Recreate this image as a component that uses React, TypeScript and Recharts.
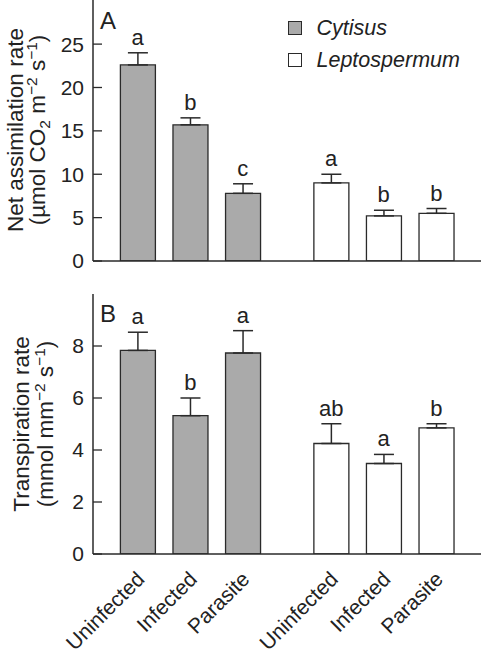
import React from 'react';
import { ComposedChart, Bar, ErrorBar, XAxis, YAxis, Scatter, Legend } from 'recharts';

// ---------- data ----------
const treatments = ['Uninfected', 'Infected', 'Parasite'];
const species = ['Cytisus', 'Leptospermum'];

const cytisusNetAssim = [22.6, 15.7, 7.8];
const cytisusNetAssimErr = [1.4, 0.8, 1.1];
const cytisusNetAssimLetters = ['a', 'b', 'c'];
const leptoNetAssim = [9.0, 5.2, 5.5];
const leptoNetAssimErr = [1.0, 0.65, 0.55];
const leptoNetAssimLetters = ['a', 'b', 'b'];

const cytisusTransp = [7.83, 5.32, 7.73];
const cytisusTranspErr = [0.7, 0.68, 0.86];
const cytisusTranspLetters = ['a', 'b', 'a'];
const leptoTransp = [4.25, 3.48, 4.85];
const leptoTranspErr = [0.76, 0.35, 0.16];
const leptoTranspLetters = ['ab', 'a', 'b'];

const netAssimTicks = [0, 5, 10, 15, 20, 25];
const transpTicks = [0, 2, 4, 6, 8];

// ---------- layout constants ----------
const GROUP_GAP = 0.68;
const X_DOMAIN: [number, number] = [-0.85, 6.53];
const FONT = '"Liberation Sans", Arial, Helvetica, sans-serif';
const INK = '#222';
const GRAY = '#aaaaaa';
const STROKE = '#2a2a2a';

type Row = {
  pos: number;
  treatment: string;
  cyt?: number;
  lep?: number;
  cytErr?: [number, number];
  lepErr?: [number, number];
  top: number;
  letter: string;
};

function buildRows(
  cV: number[], cE: number[], cL: string[],
  lV: number[], lE: number[], lL: string[]
): Row[] {
  const rows: Row[] = [];
  treatments.forEach((t, i) =>
    rows.push({ pos: i, treatment: t, cyt: cV[i], cytErr: [0, cE[i]], top: cV[i] + cE[i], letter: cL[i] })
  );
  treatments.forEach((t, i) =>
    rows.push({
      pos: treatments.length + GROUP_GAP + i,
      treatment: t,
      lep: lV[i],
      lepErr: [0, lE[i]],
      top: lV[i] + lE[i],
      letter: lL[i],
    })
  );
  return rows;
}

const rowsA = buildRows(
  cytisusNetAssim, cytisusNetAssimErr, cytisusNetAssimLetters,
  leptoNetAssim, leptoNetAssimErr, leptoNetAssimLetters
);
const rowsB = buildRows(
  cytisusTransp, cytisusTranspErr, cytisusTranspLetters,
  leptoTransp, leptoTranspErr, leptoTranspLetters
);

const LetterShape = (props: any) => {
  const { cx, cy, payload } = props;
  return (
    <text x={cx} y={cy - 8} textAnchor="middle" fontSize={22} fontFamily={FONT} fill={INK}>
      {payload.letter}
    </text>
  );
};

const RotatedTick = (props: any) => {
  const { x, y, payload } = props;
  const row = rowsB.find((r) => Math.abs(r.pos - payload.value) < 1e-6);
  return (
    <text
      transform={`translate(${x + 8},${y + 24.5}) rotate(-45)`}
      textAnchor="end"
      fontSize={21}
      fontFamily={FONT}
      fill={INK}
    >
      {row ? row.treatment : ''}
    </text>
  );
};

const LegendContent = () => (
  <div style={{ fontFamily: FONT, fontStyle: 'italic', fontSize: 21.5, color: INK }}>
    {species.map((s, i) => (
      <div key={s} style={{ display: 'flex', alignItems: 'center', height: 32 }}>
        <span
          style={{
            display: 'inline-block',
            width: 14,
            height: 14,
            boxSizing: 'border-box',
            border: `1.5px solid ${STROKE}`,
            background: i === 0 ? GRAY : '#fff',
            marginRight: 14.5,
          }}
        />
        <span>{s}</span>
      </div>
    ))}
  </div>
);

const yTick = { fontSize: 21, fill: INK, fontFamily: FONT };

function Panel(props: {
  rows: Row[];
  height: number;
  top: number;
  xAxisHeight: number;
  yDomain: [number, number];
  yTicks: number[];
  showXLabels: boolean;
  showLegend: boolean;
}) {
  const { rows, height, top, xAxisHeight, yDomain, yTicks, showXLabels, showLegend } = props;
  const positions = rows.map((r) => r.pos);
  return (
    <ComposedChart width={482} height={height} data={rows} margin={{ top, right: 1, bottom: 0, left: 0 }}>
      <XAxis
        dataKey="pos"
        type="number"
        domain={X_DOMAIN}
        ticks={positions}
        interval={0}
        height={xAxisHeight}
        tickSize={0}
        tickLine={false}
        tick={showXLabels ? <RotatedTick /> : false}
        axisLine={{ stroke: STROKE, strokeWidth: 1.5 }}
      />
      <XAxis xAxisId="top" orientation="top" height={0} tick={false} tickLine={false} axisLine={{ stroke: STROKE, strokeWidth: 1.5 }} />
      <YAxis
        type="number"
        domain={yDomain}
        ticks={yTicks}
        interval={0}
        width={93}
        tickSize={-9}
        tickMargin={18}
        tick={yTick}
        tickLine={{ stroke: STROKE, strokeWidth: 1.3 }}
        axisLine={{ stroke: STROKE, strokeWidth: 1.5 }}
        allowDataOverflow
      />
      <YAxis yAxisId="right" orientation="right" width={0} tick={false} tickLine={false} axisLine={{ stroke: STROKE, strokeWidth: 1.5 }} />
      {showLegend && (
        <Legend
          layout="horizontal"
          verticalAlign="middle"
          align="center"
          content={<LegendContent />}
          wrapperStyle={{ left: 288, top: 13, width: 190 }}
        />
      )}
      <Bar dataKey="cyt" name={species[0]} stackId="s" barSize={35} fill={GRAY} stroke={STROKE} strokeWidth={1.3} isAnimationActive={false}>
        <ErrorBar dataKey="cytErr" width={10} stroke={STROKE} strokeWidth={1.5} direction="y" />
      </Bar>
      <Bar dataKey="lep" name={species[1]} stackId="s" barSize={35} fill="#ffffff" stroke={STROKE} strokeWidth={1.3} isAnimationActive={false}>
        <ErrorBar dataKey="lepErr" width={10} stroke={STROKE} strokeWidth={1.5} direction="y" />
      </Bar>
      <Scatter dataKey="top" legendType="none" shape={<LetterShape />} isAnimationActive={false} />
    </ComposedChart>
  );
}

export default function App() {
  return (
    <div style={{ position: 'absolute', left: 0, top: 0, width: 482, height: 650, background: '#fff', overflow: 'hidden' }}>
      <div style={{ position: 'absolute', left: 0, top: -1 }}>
        <Panel rows={rowsA} height={274} top={0} xAxisHeight={12} yDomain={[0, 30.2]} yTicks={netAssimTicks} showXLabels={false} showLegend />
      </div>
      <div style={{ position: 'absolute', left: 0, top: 293 }}>
        <Panel rows={rowsB} height={357} top={1} xAxisHeight={96} yDomain={[0, 10]} yTicks={transpTicks} showXLabels showLegend={false} />
      </div>
      <svg width={482} height={650} style={{ position: 'absolute', left: 0, top: 0, pointerEvents: 'none' }}>
        <g fontFamily={FONT} fill={INK}>
          <text x={100} y={28.5} fontSize={24}>A</text>
          <text x={100} y={321.5} fontSize={24}>B</text>
          <text transform="translate(23,130) rotate(-90)" textAnchor="middle" fontSize={22.5}>Net assimilation rate</text>
          <text transform="translate(44.5,130) rotate(-90)" textAnchor="middle" fontSize={22.5}>
            (µmol CO<tspan dy={5} fontSize={15.5}>2</tspan>
            <tspan dy={-5}> m</tspan>
            <tspan dy={-8} fontSize={15.5}>−2</tspan>
            <tspan dy={8}> s</tspan>
            <tspan dy={-8} fontSize={15.5}>−1</tspan>
            <tspan dy={8}>)</tspan>
          </text>
          <text transform="translate(29,424) rotate(-90)" textAnchor="middle" fontSize={22.5}>Transpiration rate</text>
          <text transform="translate(52.5,424) rotate(-90)" textAnchor="middle" fontSize={22.5}>
            (mmol mm<tspan dy={-8} fontSize={15.5}>−2</tspan>
            <tspan dy={8}> s</tspan>
            <tspan dy={-8} fontSize={15.5}>−1</tspan>
            <tspan dy={8}>)</tspan>
          </text>
        </g>
      </svg>
    </div>
  );
}
